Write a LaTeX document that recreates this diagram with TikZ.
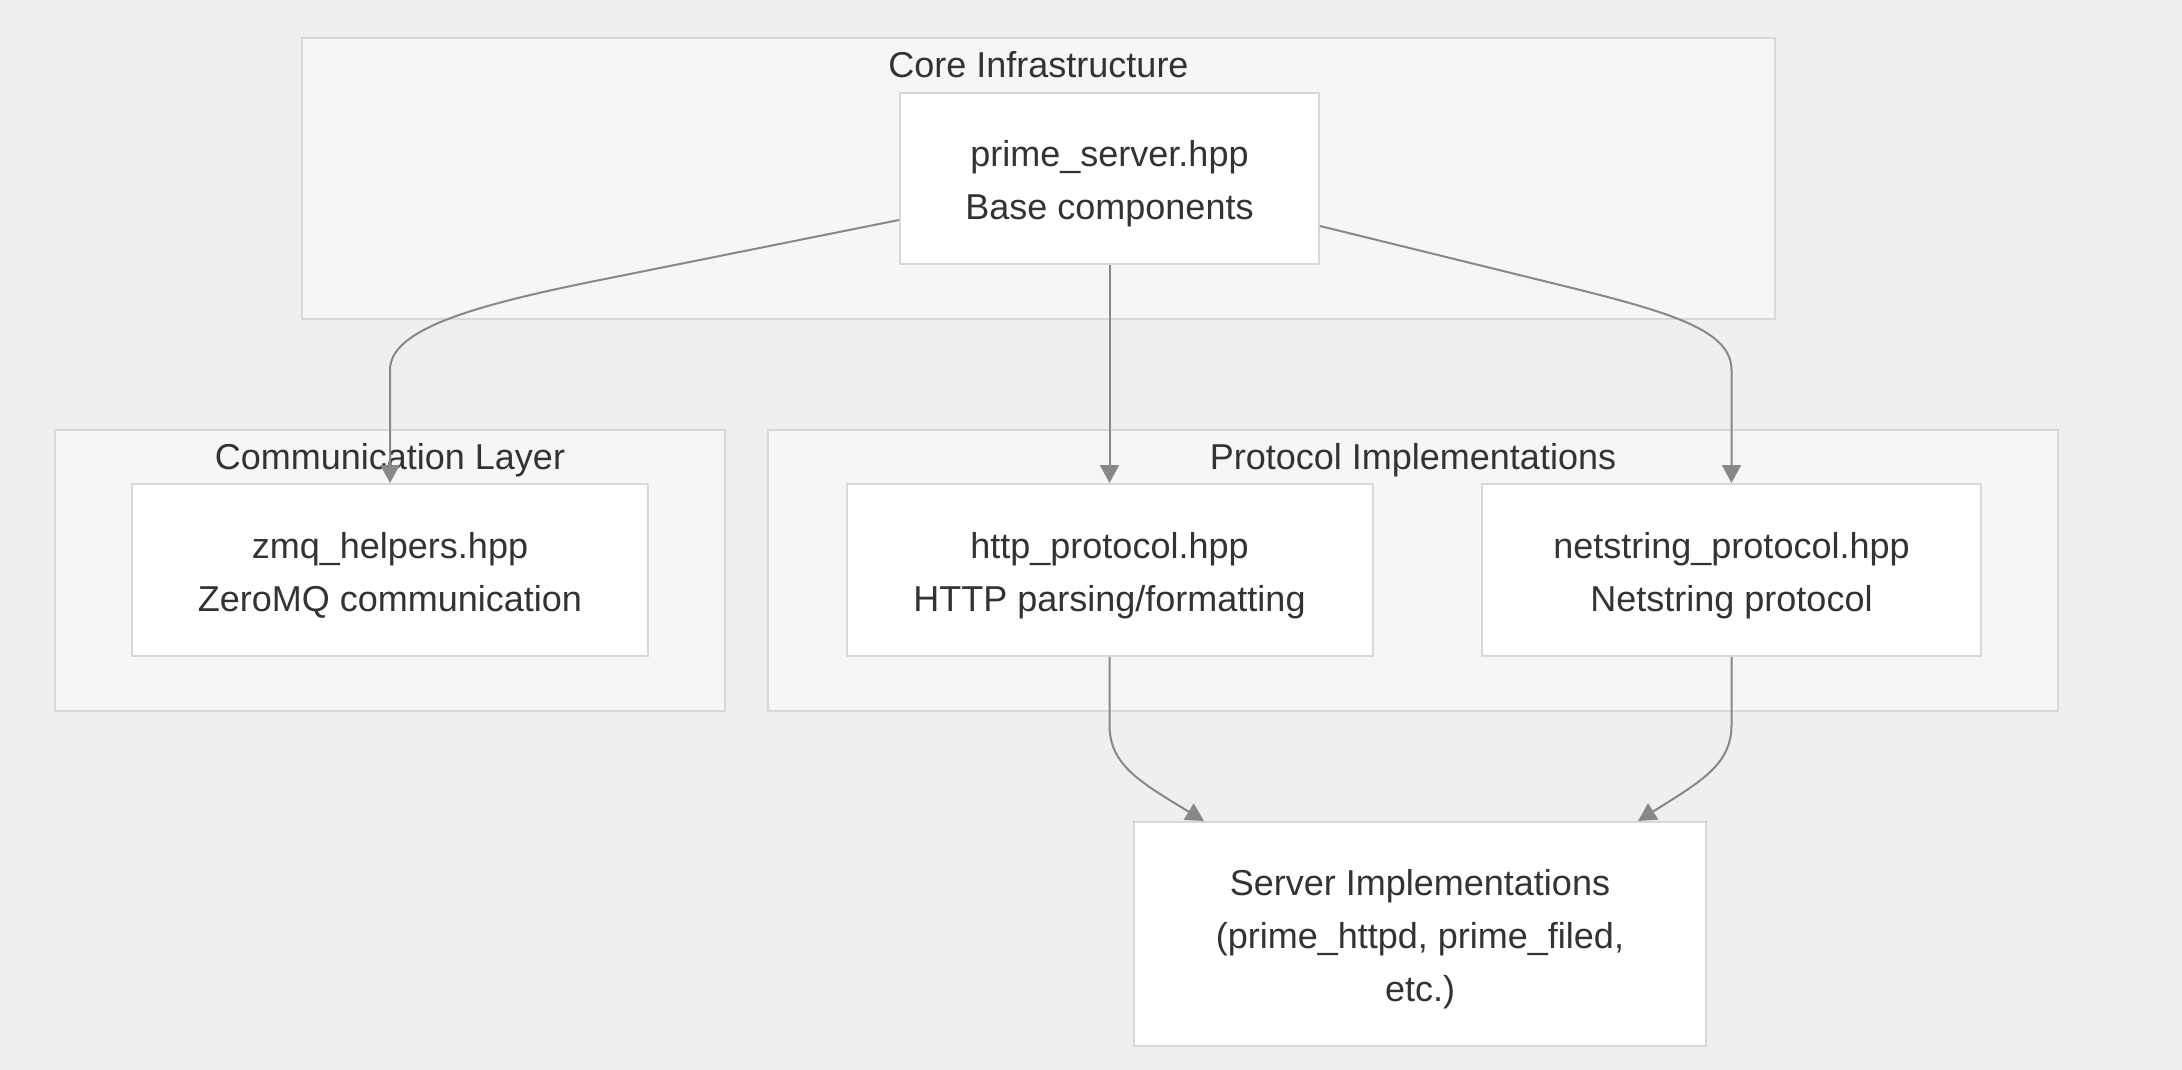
\documentclass[tikz,border=0pt]{standalone}
\usepackage{fontspec}
\setmainfont{Liberation Sans}
\usetikzlibrary{arrows.meta,calc}
\definecolor{bgc}{RGB}{240,239,237}
\definecolor{clfill}{RGB}{246,246,246}
\definecolor{bordc}{RGB}{216,216,216}
\definecolor{edgec}{RGB}{136,136,136}
\definecolor{txtc}{RGB}{51,51,51}
\newcommand{\topst}{\rule{0pt}{38pt}}
\newcommand{\botst}{\rule[-9pt]{0pt}{9pt}}
\tikzset{
  cluster/.style={draw=bordc, fill=clfill, line width=2pt, minimum width=#1, inner sep=0pt, minimum height=281pt},
  cltitle/.style={text=txtc, font=\fontsize{36}{42}\selectfont, inner sep=0pt},
  box/.style={draw=bordc, fill=white, line width=2pt, text=txtc, align=center, inner sep=0pt, font=\fontsize{36}{53}\selectfont},
  conn/.style={draw=edgec, line width=2pt, -{Triangle[length=18pt,width=19pt]}}
}
\begin{document}
\begin{tikzpicture}[x=1pt,y=-1pt]
\fill[bgc] (0,0) rectangle (2182,1070);
\useasboundingbox (0,0) rectangle (2182,1070);
% clusters
\node[cluster=1473pt] (core) at (1038.5,178.5) {};
\node[cluster=670pt] (comm) at (390,570.5) {};
\node[cluster=1290pt] (proto) at (1413,570.5) {};
\node[cltitle] (coreT) at (1038.5,65) {Core Infrastructure};
\node[cltitle] (commT) at (390,460) {Communication Layer};
\node[cltitle] (protoT) at (1413,460) {Protocol Implementations};
% nodes
\node[box, minimum width=419pt, minimum height=171pt] (prime) at (1109.5,178.5) {\topst prime\_server.hpp\\Base components\botst};
\node[box, minimum width=516pt, minimum height=172pt] (zmq) at (390,570) {\topst zmq\_helpers.hpp\\ZeroMQ communication\botst};
\node[box, minimum width=526pt, minimum height=172pt] (http) at (1109.5,570) {\topst http\_protocol.hpp\\HTTP parsing/formatting\botst};
\node[box, minimum width=499pt, minimum height=172pt] (net) at (1731.5,570) {\topst netstring\_protocol.hpp\\Netstring protocol\botst};
\node[box, minimum width=572pt, minimum height=224pt] (server) at (1420,934) {\topst Server Implementations\\(prime\_httpd, prime\_filed,\\etc.)\botst};
% connectors
\draw[conn] ([yshift=-41.5pt]prime.west) -- (600,280) .. controls (470,306) and (390,330) .. (390,370) -- (zmq.north);
\draw[conn] ([yshift=-47.5pt]prime.east) -- (1560,285) .. controls (1670,312) and (1731.5,330) .. (1731.5,370) -- (net.north);
\draw[conn] (prime.south) -- (http.north);
\draw[conn] (http.south) -- (1109.5,725) .. controls (1109.5,765) and (1140,782) .. ([xshift=-216pt]server.north);
\draw[conn] (net.south) -- (1731.5,725) .. controls (1731.5,765) and (1700,782) .. ([xshift=218pt]server.north);
\end{tikzpicture}
\end{document}
